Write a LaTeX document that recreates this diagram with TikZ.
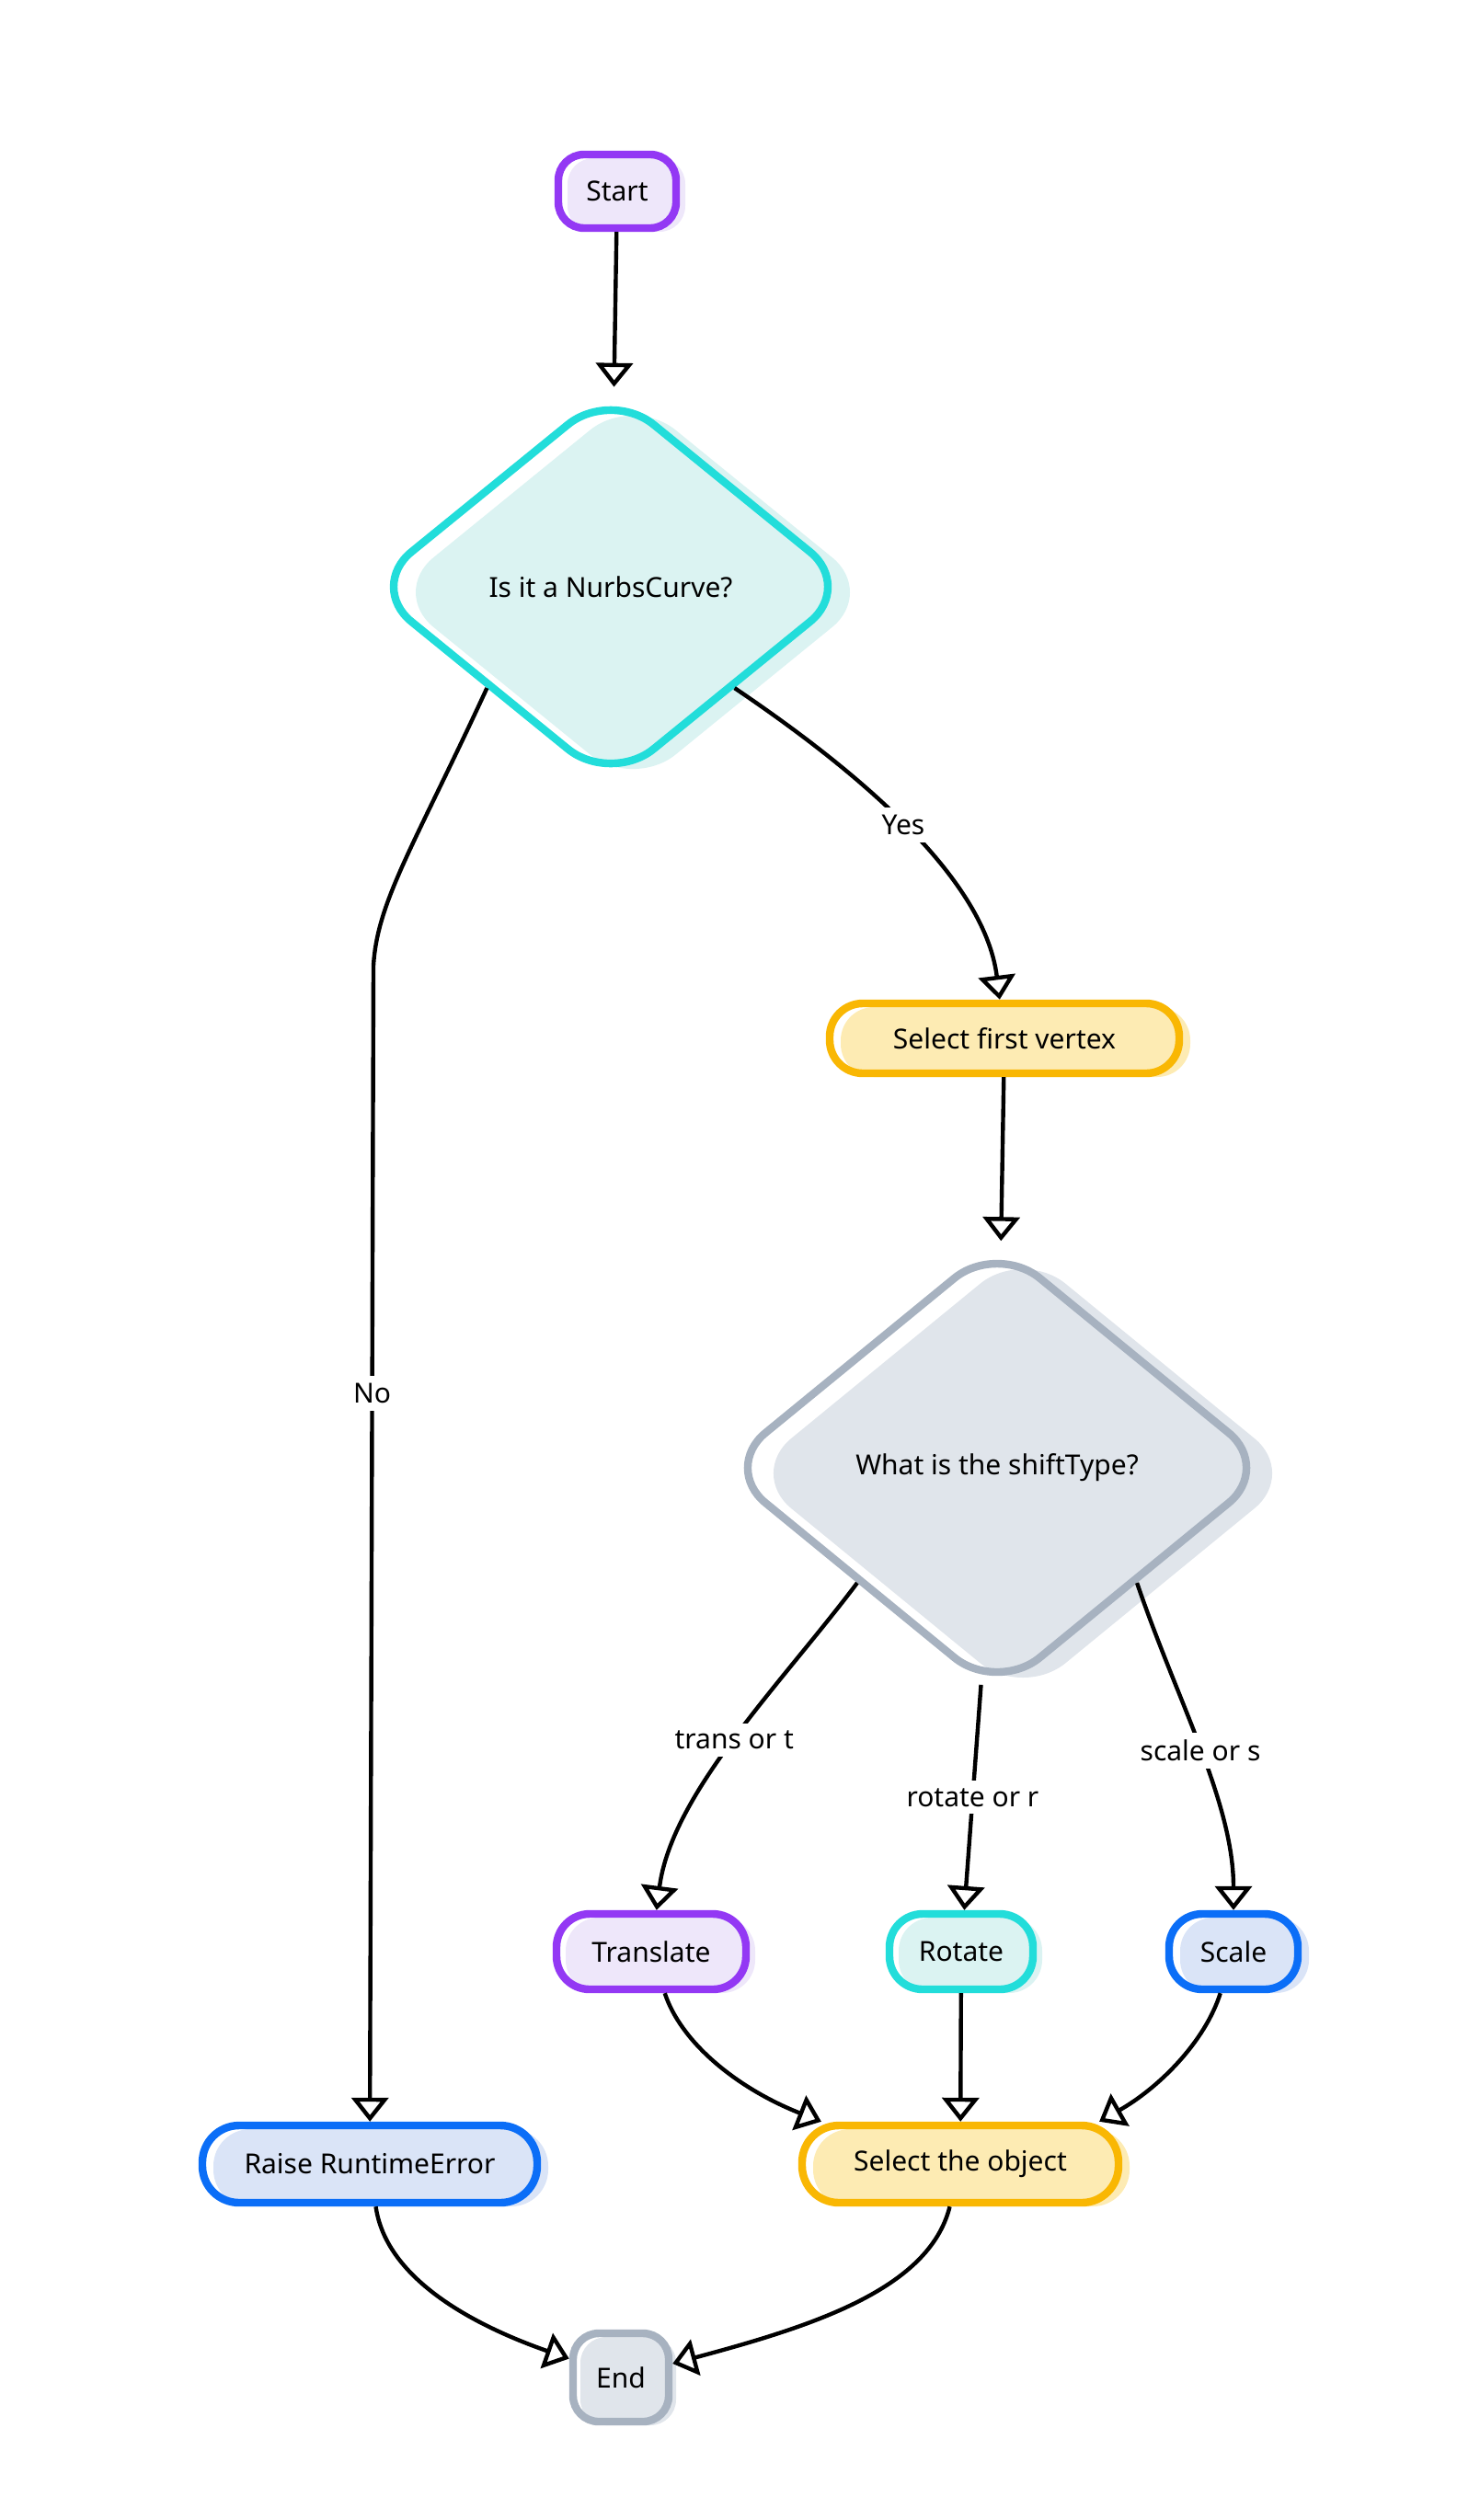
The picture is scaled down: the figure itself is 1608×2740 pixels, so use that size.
\documentclass[tikz,border=0pt]{standalone}
\usepackage{fontspec}
\setmainfont{Noto Sans}
\usetikzlibrary{shapes.geometric, arrows.meta, shadows}
\definecolor{cpurple}{HTML}{9338F4}
\definecolor{fpurple}{HTML}{EEE7FA}
\definecolor{ccyan}{HTML}{22DDDA}
\definecolor{fcyan}{HTML}{DBF3F2}
\definecolor{cyellow}{HTML}{F9B703}
\definecolor{fyellow}{HTML}{FDEBB3}
\definecolor{cblue}{HTML}{0B6EF7}
\definecolor{fblue}{HTML}{DAE4F7}
\definecolor{cgray}{HTML}{A7B2C0}
\definecolor{fgray}{HTML}{E0E5EB}
\newcommand{\chartfont}{\fontsize{15}{17}\selectfont}

\begin{document}
\begin{tikzpicture}
                \tikzset{x=0.5pt, y=-0.5pt}
                \tikzstyle{term}=[rectangle, rounded corners=14pt, line width=4.2pt, inner sep=0pt, font=\chartfont]
                \tikzstyle{decide}=[diamond, rounded corners=30pt, line width=4.2pt, inner sep=0pt, font=\chartfont]
                \tikzstyle{flow}=[line width=2.2pt, -{Triangle[open, length=13pt, width=20pt]}]
                \tikzstyle{guard}=[fill=white, inner sep=4pt, font=\chartfont]
                \tikzstyle{tpurple}=[term, draw=cpurple, general shadow={fill=fpurple, shadow xshift=5pt, shadow yshift=-2pt}]
                \tikzstyle{tcyan}=[term, draw=ccyan, general shadow={fill=fcyan, shadow xshift=5pt, shadow yshift=-2pt}]
                \tikzstyle{tyellow}=[term, draw=cyellow, general shadow={fill=fyellow, shadow xshift=6pt, shadow yshift=-2pt}]
                \tikzstyle{tblue}=[term, draw=cblue, general shadow={fill=fblue, shadow xshift=6pt, shadow yshift=-2pt}]
                \tikzstyle{tgray}=[term, draw=cgray, general shadow={fill=fgray, shadow xshift=4pt, shadow yshift=-2pt}]

                \useasboundingbox (0, 0) rectangle (1608, 2740);

                \draw (671, 208)    node[tpurple, minimum width=64pt, minimum height=40pt]   (start)     {Start};
                \draw (664, 638)    node[decide, draw=ccyan, minimum width=265pt, minimum height=216pt,
                                         general shadow={fill=fcyan, shadow xshift=12pt, shadow yshift=-3pt}]
                                                                                            (isnurbs)   {Is it a NurbsCurve?};
                \draw (1092, 1129)  node[tyellow, minimum width=190pt, minimum height=38pt, rounded corners=18pt]
                                                                                            (selfirst)  {Select first vertex};
                \draw (1084, 1596)  node[decide, draw=cgray, minimum width=300pt, minimum height=246pt,
                                         general shadow={fill=fgray, shadow xshift=14pt, shadow yshift=-3pt}]
                                                                                            (shifttype) {What is the shiftType?};
                \draw (708, 2122)   node[tpurple, minimum width=103pt, minimum height=41pt, rounded corners=18pt]
                                                                                            (translate) {Translate};
                \draw (1045, 2122)  node[tcyan, minimum width=78pt, minimum height=41pt, rounded corners=18pt]
                                                                                            (rotate)    {Rotate};
                \draw (1341, 2122)  node[tblue, minimum width=70pt, minimum height=41pt, rounded corners=18pt]
                                                                                            (scaling)   {Scale};
                \draw (402, 2353)   node[tblue, minimum width=182pt, minimum height=42pt, rounded corners=20pt]
                                                                                            (raise)     {Raise RuntimeError};
                \draw (1044, 2353)  node[tyellow, minimum width=172pt, minimum height=42pt, rounded corners=20pt]
                                                                                            (selobj)    {Select the object};
                \draw (675, 2585)   node[tgray, minimum width=52pt, minimum height=48pt]    (stop)      {End};

                \draw [flow]        (start) -- (isnurbs);
                \draw [flow]        (isnurbs.south west) .. controls (450, 920) and (410, 980) .. (406, 1050)
                                    -- node[guard, pos=0.37] (lblno) {No} (raise);
                \draw [flow]        (isnurbs.south east) .. controls (920, 830) and (1070, 950) ..
                                    node[guard] (lblyes) {Yes} (selfirst);
                \draw [flow]        (selfirst) -- (shifttype);
                \draw [flow]        (shifttype.south west) .. controls (850, 1830) and (730, 1950) ..
                                    node[guard] (lbltrans) {trans or t} (translate);
                \draw [flow]        (shifttype) -- node[guard] (lblrotate) {rotate or r} (rotate);
                \draw [flow]        (shifttype.south east) .. controls (1280, 1850) and (1341, 1960) ..
                                    node[guard] (lblscale) {scale or s} (scaling);
                \draw [flow]        (translate) .. controls (740, 2220) and (800, 2270) .. (selobj.163);
                \draw [flow]        (rotate) -- (selobj);
                \draw [flow]        (scaling) .. controls (1310, 2220) and (1260, 2270) .. (selobj.17);
                \draw [flow]        (raise) .. controls (420, 2480) and (520, 2530) .. (stop.160);
                \draw [flow]        (selobj) .. controls (1010, 2490) and (880, 2530) .. (stop.15);
\end{tikzpicture}
\end{document}
